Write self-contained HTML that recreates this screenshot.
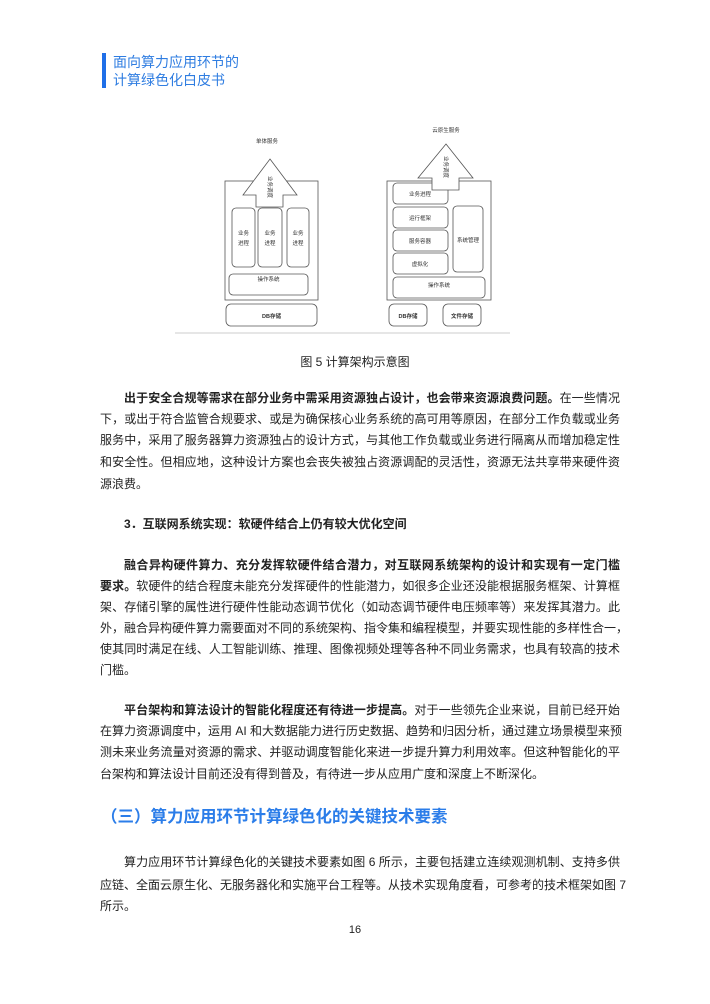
<!DOCTYPE html>
<html><head><meta charset="utf-8">
<style>
html,body{margin:0;padding:0;background:#fff;}
body{width:710px;height:1004px;position:relative;overflow:hidden;font-family:"Liberation Sans","Noto Sans CJK SC",sans-serif;color:#222;}
.l{position:absolute;left:100px;width:520px;font-size:12px;line-height:16px;white-space:nowrap;text-align:justify;text-align-last:justify;}
.n{text-align-last:left;}
.i{left:124px;width:496px;}
b{font-weight:bold;}
</style></head><body>
<div style="position:absolute;left:102px;top:53px;width:4px;height:35px;background:#1f6fe8"></div>
<div style="position:absolute;left:113px;top:53px;font-size:14px;line-height:18px;color:#2f7de1">面向算力应用环节的<br>计算绿色化白皮书</div>

<svg style="position:absolute;left:0;top:0" width="710" height="345" viewBox="0 0 710 345">
<g fill="#fff" stroke="#555" stroke-width="0.8">
<rect x="225" y="181" width="93" height="119"/>
<polygon points="270,159 297,195 283,195 283,207 256,207 256,195 243,195"/>
<rect x="232" y="208" width="23" height="59" rx="4"/>
<rect x="258" y="208" width="24" height="59" rx="4"/>
<rect x="287" y="208" width="22" height="59" rx="4"/>
<rect x="229" y="274" width="79" height="21" rx="4"/>
<rect x="226" y="304" width="91" height="22" rx="5"/>
<rect x="387" y="181" width="104" height="119"/>
<rect x="393" y="183" width="55" height="21" rx="4"/>
<polygon points="446,144 473,178 459,178 459,190 432,190 432,178 418,178"/>
<rect x="393" y="207" width="55" height="21" rx="4"/>
<rect x="393" y="230" width="55" height="21" rx="4"/>
<rect x="393" y="253" width="55" height="21" rx="4"/>
<rect x="453" y="206" width="30" height="66" rx="4"/>
<rect x="393" y="277" width="92" height="21" rx="4"/>
<rect x="389" y="304" width="38" height="22" rx="5"/>
<rect x="443" y="304" width="38" height="22" rx="5"/>
</g>
<line x1="175" y1="333" x2="510" y2="333" stroke="#ccc" stroke-width="1"/>
<g font-family="Liberation Sans,Noto Sans CJK SC,sans-serif" font-size="5.5" fill="#333" text-anchor="middle">
<text x="267" y="143">单体服务</text>
<text x="446" y="132">云原生服务</text>
<text x="243.5" y="235">业务</text><text x="243.5" y="245">进程</text>
<text x="270" y="235">业务</text><text x="270" y="245">进程</text>
<text x="298" y="235">业务</text><text x="298" y="245">进程</text>
<text x="268.5" y="281">操作系统</text>
<text x="271.5" y="318" font-weight="bold">DB存储</text>
<text x="420" y="196">业务进程</text>
<text x="420" y="220">运行框架</text>
<text x="420" y="243">服务容器</text>
<text x="420" y="266">虚拟化</text>
<text x="468" y="242">系统管理</text>
<text x="439" y="287">操作系统</text>
<text x="408" y="318" font-weight="bold">DB存储</text>
<text x="462" y="318" font-weight="bold">文件存储</text>
<text transform="translate(268,187) rotate(90)">业务调度</text>
<text transform="translate(444,167) rotate(90)">业务调度</text>
</g>
</svg>

<div style="position:absolute;left:0;width:710px;top:354px;text-align:center;font-size:12px;line-height:16px">图 5 计算架构示意图</div>

<div class="l i" style="top:390px"><b>出于安全合规等需求在部分业务中需采用资源独占设计，也会带来资源浪费问题。</b>在一些情况</div>
<div class="l" style="top:411px">下，或出于符合监管合规要求、或是为确保核心业务系统的高可用等原因，在部分工作负载或业务</div>
<div class="l" style="top:432px">服务中，采用了服务器算力资源独占的设计方式，与其他工作负载或业务进行隔离从而增加稳定性</div>
<div class="l" style="top:454px">和安全性。但相应地，这种设计方案也会丧失被独占资源调配的灵活性，资源无法共享带来硬件资</div>
<div class="l n" style="top:476px">源浪费。</div>

<div class="l i n" style="top:516px"><b>3．互联网系统实现：软硬件结合上仍有较大优化空间</b></div>

<div class="l i" style="top:557px"><b>融合异构硬件算力、充分发挥软硬件结合潜力，对互联网系统架构的设计和实现有一定门槛</b></div>
<div class="l" style="top:578px"><b>要求。</b>软硬件的结合程度未能充分发挥硬件的性能潜力，如很多企业还没能根据服务框架、计算框</div>
<div class="l" style="top:599px">架、存储引擎的属性进行硬件性能动态调节优化（如动态调节硬件电压频率等）来发挥其潜力。此</div>
<div class="l" style="top:620px">外，融合异构硬件算力需要面对不同的系统架构、指令集和编程模型，并要实现性能的多样性合一，</div>
<div class="l" style="top:641px">使其同时满足在线、人工智能训练、推理、图像视频处理等各种不同业务需求，也具有较高的技术</div>
<div class="l n" style="top:662px">门槛。</div>

<div class="l i" style="top:702px"><b>平台架构和算法设计的智能化程度还有待进一步提高。</b>对于一些领先企业来说，目前已经开始</div>
<div class="l" style="top:723px">在算力资源调度中，运用 AI 和大数据能力进行历史数据、趋势和归因分析，通过建立场景模型来预</div>
<div class="l" style="top:744px">测未来业务流量对资源的需求、并驱动调度智能化来进一步提升算力利用效率。但这种智能化的平</div>
<div class="l n" style="top:766px">台架构和算法设计目前还没有得到普及，有待进一步从应用广度和深度上不断深化。</div>

<div style="position:absolute;left:101px;top:806px;font-size:16.5px;line-height:22px;font-weight:bold;color:#2b7de9;white-space:nowrap">（三）算力应用环节计算绿色化的关键技术要素</div>

<div class="l i" style="top:854px">算力应用环节计算绿色化的关键技术要素如图 6 所示，主要包括建立连续观测机制、支持多供</div>
<div class="l" style="top:877px">应链、全面云原生化、无服务器化和实施平台工程等。从技术实现角度看，可参考的技术框架如图 7</div>
<div class="l n" style="top:898px">所示。</div>

<div style="position:absolute;left:0;width:710px;top:923px;text-align:center;font-size:11px;line-height:14px">16</div>
</body></html>
